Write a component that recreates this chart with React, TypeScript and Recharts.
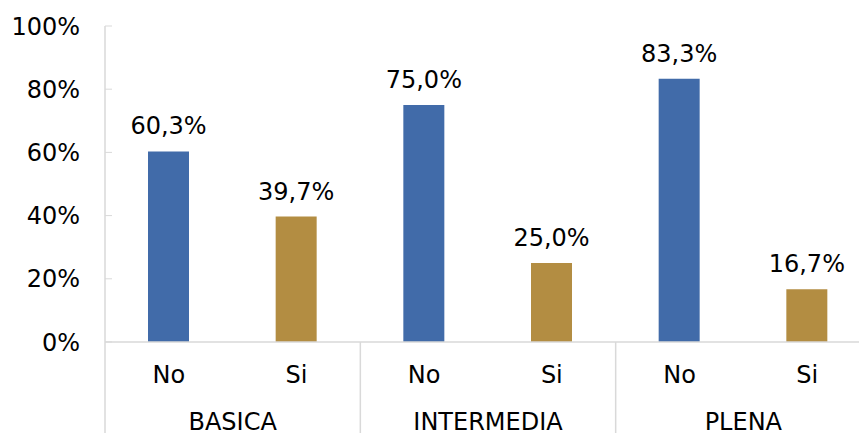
import React from 'react';
import { BarChart, Bar, XAxis, YAxis, Cell, LabelList } from 'recharts';

const groups = ['BASICA', 'BASICA', 'INTERMEDIA', 'INTERMEDIA', 'PLENA', 'PLENA'];
const answers = ['No', 'Si', 'No', 'Si', 'No', 'Si'];
const values = [60.3, 39.7, 75.0, 25.0, 83.3, 16.7];
const yTicks = [0, 20, 40, 60, 80, 100];

const BLUE = '#416BA9';
const GOLD = '#B38D42';
const LINE = '#D9D9D9';
const FONT = '"DejaVu Sans", Verdana, sans-serif';
const FS = 24;

const data = values.map((v, i) => ({
  key: `${groups[i]}-${answers[i]}`,
  answer: answers[i],
  group: groups[i],
  value: v,
}));

const fmt = (v: any) => `${Number(v).toFixed(1).replace('.', ',')}%`;

const YTick = (props: any) => {
  const { x, y, payload } = props;
  return (
    <g>
      <line x1={x} x2={x + 7} y1={y} y2={y} stroke={LINE} strokeWidth={1} />
      <text x={x - 25} y={y} dy="0.36em" textAnchor="end" fontFamily={FONT} fontSize={FS} fill="#000">
        {`${payload.value}%`}
      </text>
    </g>
  );
};

const CatTick = (props: any) => {
  const { x, y, payload } = props;
  return (
    <text x={x} y={y + 41} textAnchor="middle" fontFamily={FONT} fontSize={FS} fill="#000">
      {payload.value}
    </text>
  );
};

const GroupTick = (props: any) => {
  const { x, y, payload } = props;
  const half = payload && typeof payload.offset === 'number' && payload.offset > 0 ? payload.offset : 127.67;
  const left = x - half;
  return (
    <g>
      <line x1={left} x2={left} y1={y - 50} y2={y + 45} stroke={LINE} strokeWidth={1.5} />
      <text x={x} y={y + 38} textAnchor="middle" fontFamily={FONT} fontSize={FS} fill="#000">
        {payload.value}
      </text>
    </g>
  );
};

export default function App() {
  return (
    <div style={{ position: 'absolute', left: 0, top: 0, width: 859, height: 433, overflow: 'hidden', background: '#fff' }}>
      <BarChart
        width={871}
        height={433}
        data={data}
        margin={{ top: 26, right: 0, bottom: 0, left: 0 }}
        barCategoryGap={0}
      >
        <XAxis
          xAxisId={0}
          dataKey="key"
          interval={0}
          tickSize={0}
          tickMargin={0}
          tickLine={false}
          axisLine={{ stroke: LINE, strokeWidth: 1.5 }}
          height={50}
          tick={(p: any) => <CatTick {...p} payload={{ ...p.payload, value: answers[p.index] }} />}
        />
        <XAxis
          xAxisId="grp"
          dataKey="group"
          allowDuplicatedCategory={false}
          interval={0}
          tickSize={0}
          tickMargin={0}
          tickLine={false}
          axisLine={false}
          height={41}
          tick={<GroupTick />}
        />
        <YAxis
          width={105}
          domain={[0, 100]}
          ticks={yTicks}
          interval={0}
          tickSize={0}
          tickMargin={0}
          tickLine={false}
          axisLine={{ stroke: LINE, strokeWidth: 1.5 }}
          tick={<YTick />}
        />
        <Bar dataKey="value" xAxisId={0} barSize={41} isAnimationActive={false}>
          {data.map((d, i) => (
            <Cell key={d.key} fill={d.answer === 'No' ? BLUE : GOLD} />
          ))}
          <LabelList
            dataKey="value"
            position="top"
            offset={17}
            formatter={fmt}
            style={{ fontFamily: FONT, fontSize: FS, fill: '#000' }}
          />
        </Bar>
      </BarChart>
    </div>
  );
}
